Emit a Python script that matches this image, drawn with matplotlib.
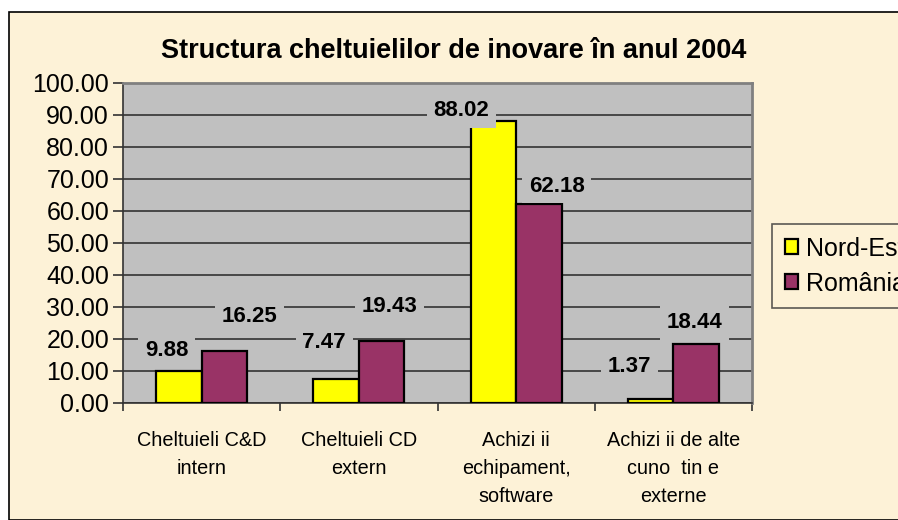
import matplotlib
matplotlib.use("Agg")
import matplotlib.pyplot as plt
import numpy as np
from matplotlib.patches import Rectangle

plt.rcParams['font.family'] = ['Liberation Sans', 'DejaVu Sans']

categories = ["Cheltuieli C&D\nintern", "Cheltuieli CD\nextern",
              "Achizi ii\nechipament,\nsoftware",
              "Achizi ii de alte\ncuno  tin e\nexterne"]
nord_est = [9.88, 7.47, 88.02, 1.37]
romania = [16.25, 19.43, 62.18, 18.44]
series_names = ["Nord-Est", "România"]
yticks = np.arange(0, 101, 10)

# label offsets in pixels (dx, dy) as placed in the original
off_ne = [(-12, 21), (-12, 37), (-32, 11), (-21, 32)]
off_ro = [(25, 35), (8, 34), (18, 18), (-2, 21)]

W, H = 898, 520
fig = plt.figure(figsize=(W / 100, H / 100), dpi=100, facecolor='white')
fig.patches.append(Rectangle((9 / W, 0), 1, (H - 12) / H, transform=fig.transFigure,
                             facecolor='#fdf2d7', edgecolor='black', lw=1.2, zorder=-10))

ax = fig.add_axes([123 / W, 117 / H, 629 / W, 320 / H])
ax.set_facecolor('#c0c0c0')

x = np.arange(len(categories))
bw = 0.29
b1 = ax.bar(x - bw / 2, nord_est, bw, color='#ffff00', edgecolor='black', lw=1.6,
            label=series_names[0], zorder=3)
b2 = ax.bar(x + bw / 2, romania, bw, color='#993366', edgecolor='black', lw=1.6,
            label=series_names[1], zorder=3)

ax.set_xlim(-0.5, len(categories) - 0.5)
ax.set_ylim(0, 100)
ax.set_yticks(yticks)
ax.set_yticklabels([f"{v:.2f}" for v in yticks], fontsize=18)
ax.yaxis.grid(True, color='#333333', lw=1.2, zorder=1)
ax.set_axisbelow(True)

ax.set_xticks(np.arange(len(categories) + 1) - 0.5)
ax.set_xticklabels([])
ax.set_xticks(x, minor=True)
ax.set_xticklabels(categories, minor=True, fontsize=14.3, linespacing=1.62)
ax.tick_params(axis='x', which='minor', length=0, pad=20)
ax.tick_params(axis='x', which='major', length=6, width=1.2, color='#333333')
ax.tick_params(axis='y', length=7, width=1.2, color='#333333', pad=3)

for s in ['top', 'right']:
    ax.spines[s].set_color('#808080')
    ax.spines[s].set_linewidth(2)
for s in ['left', 'bottom']:
    ax.spines[s].set_color('#333333')
    ax.spines[s].set_linewidth(1.2)

for bars, vals, offs in [(b1, nord_est, off_ne), (b2, romania, off_ro)]:
    for rect, v, (dx, dy) in zip(bars, vals, offs):
        ax.annotate(f"{v:.2f}", (rect.get_x() + rect.get_width() / 2, v),
                    xytext=(dx, dy), textcoords='offset pixels',
                    ha='center', va='center', fontsize=16, fontweight='bold',
                    bbox=dict(boxstyle='square,pad=0.3', facecolor='#c0c0c0',
                              edgecolor='none'),
                    zorder=5, annotation_clip=False)

fig.text(454 / W, 1 - 51 / H, "Structura cheltuielilor de inovare în anul 2004",
         ha='center', va='center', fontsize=19.5, fontweight='bold')

# legend sits partly outside the figure edge, as in the original
leg = fig.legend(handles=[b1, b2], labels=series_names,
                 loc='upper left', bbox_to_anchor=(772 / W, 1 - 224 / H),
                 fontsize=18, frameon=True, fancybox=False, handlelength=0.55,
                 handleheight=0.55, handletextpad=0.32, borderpad=0.5,
                 labelspacing=0.45, borderaxespad=0)
leg.get_frame().set_facecolor('#fdf2d7')
leg.get_frame().set_edgecolor('#333333')
leg.get_frame().set_linewidth(1.2)

fig.savefig("out.png", dpi=100, facecolor=fig.get_facecolor())
